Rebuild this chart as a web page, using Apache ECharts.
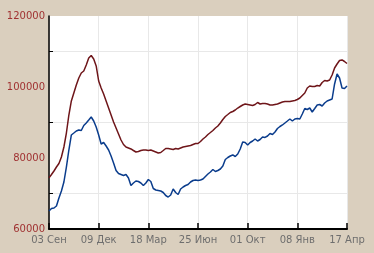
<!DOCTYPE html>
<html>
<head>
<meta charset="utf-8">
<script src="https://cdn.jsdelivr.net/npm/echarts@6/dist/echarts.min.js"></script>
<style>
  html, body { margin: 0; padding: 0; background: #dacfbe; }
  #chart { width: 374px; height: 253px; }
</style>
</head>
<body>
<div id="chart"></div>
<script>
// tick labels on the x axis, one every 20 samples
const tickLabels = ['03 Сен', '09 Дек', '18 Мар', '25 Июн', '01 Окт', '08 Янв', '17 Апр'];
const samplesPerTick = 20;
// unlabelled ticks on the y axis
const yMinorTicks = [70000, 90000, 110000];

// upper (dark red) series
const redValues = [
  74400, 75350, 76340, 77460, 78450, 80280, 83100, 87040, 92110, 96060,
  98310, 100560, 102540, 103940, 104510, 106200, 108170, 108870, 107890, 105920,
  101690, 99720, 98030, 96060, 94080, 92110, 90140, 88450, 86760, 85070,
  83800, 83100, 82820, 82540, 82110, 81690, 81830, 82110, 82250, 82250,
  82110, 82250, 81970, 81690, 81410, 81550, 82110, 82680, 82680, 82540,
  82400, 82680, 82540, 82820, 83100, 83240, 83380, 83520, 83800, 84080,
  84080, 84650, 85350, 85920, 86620, 87180, 87750, 88450, 89010, 89860,
  90850, 91690, 92250, 92820, 93100, 93520, 94080, 94510, 94930, 95210,
  95070, 94930, 94790, 95070, 95630, 95210, 95350, 95350, 95210, 94930,
  94930, 95070, 95210, 95490, 95770, 95920, 95920, 95920, 96060, 96200,
  96480, 96900, 97610, 98310, 99720, 100280, 100140, 100140, 100420, 100280,
  101270, 101830, 101690, 101970, 103380, 105350, 106480, 107470, 107610, 107180,
  106620
];

// lower (dark blue) series
const blueValues = [
  65070, 65770, 65920, 66480, 68730, 70700, 73240, 77460, 82250, 86480,
  87040, 87610, 87890, 87750, 89160, 89860, 90700, 91550, 90420, 88730,
  86480, 83940, 84370, 83380, 82250, 80560, 78590, 76480, 75630, 75350,
  75070, 75350, 74370, 72250, 72960, 73520, 73380, 72960, 72250, 72960,
  73940, 73380, 71410, 70990, 70850, 70700, 70280, 69440, 69010, 69580,
  71270, 70280, 69720, 71270, 71830, 72250, 72540, 73240, 73660, 73800,
  73660, 73800, 74090, 74790, 75490, 76060, 76760, 76200, 76480, 76900,
  77750, 79580, 80140, 80560, 80850, 80420, 81130, 82540, 84510, 84370,
  83660, 84370, 84790, 85350, 84790, 85210, 85920, 85780, 86200, 86900,
  86620, 87320, 88310, 88870, 89300, 89860, 90420, 90990, 90420, 90990,
  91130, 90990, 92390, 93940, 93660, 94080, 92960, 93940, 94930, 95070,
  94650, 95490, 96060, 96340, 96620, 100850, 103660, 102540, 99720, 99580,
  100280
];

const categories = redValues.map((_, i) =>
  i % samplesPerTick === 0 ? tickLabels[i / samplesPerTick] : ''
);

const chart = echarts.init(document.getElementById('chart'));
chart.setOption({
  animation: false,
  backgroundColor: '#dacfbe',
  grid: {
    left: 49, right: 27, top: 16, bottom: 24,
    show: true, backgroundColor: '#ffffff', borderWidth: 0
  },
  xAxis: {
    type: 'category',
    data: categories,
    boundaryGap: false,
    axisLine: { lineStyle: { color: '#000', width: 2 } },
    axisTick: { inside: true, length: 6, interval: samplesPerTick - 1, lineStyle: { color: '#000', width: 1.5 } },
    axisLabel: {
      interval: samplesPerTick - 1, margin: 6,
      color: '#6e6e6e', fontFamily: 'DejaVu Sans', fontSize: 10
    },
    splitLine: { show: true, interval: samplesPerTick - 1, lineStyle: { color: '#e8e8e8', width: 1 } }
  },
  yAxis: {
    type: 'value',
    min: 60000, max: 120000, interval: 20000,
    axisLine: { show: true, lineStyle: { color: '#000', width: 1.5 } },
    axisTick: {
      show: true, inside: true, length: 4, customValues: yMinorTicks,
      lineStyle: { color: '#000', width: 1 }
    },
    axisLabel: {
      margin: 4, color: '#a03232', fontFamily: 'DejaVu Sans', fontSize: 10,
      formatter: v => String(v)
    },
    splitLine: { show: true, lineStyle: { color: '#e8e8e8', width: 1 } }
  },
  series: [
    {
      type: 'line', data: redValues, showSymbol: false,
      lineStyle: { color: '#6e1519', width: 1.5 }
    },
    {
      type: 'line', data: blueValues, showSymbol: false,
      lineStyle: { color: '#0a3c8c', width: 1.5 }
    }
  ]
});
</script>
</body>
</html>
